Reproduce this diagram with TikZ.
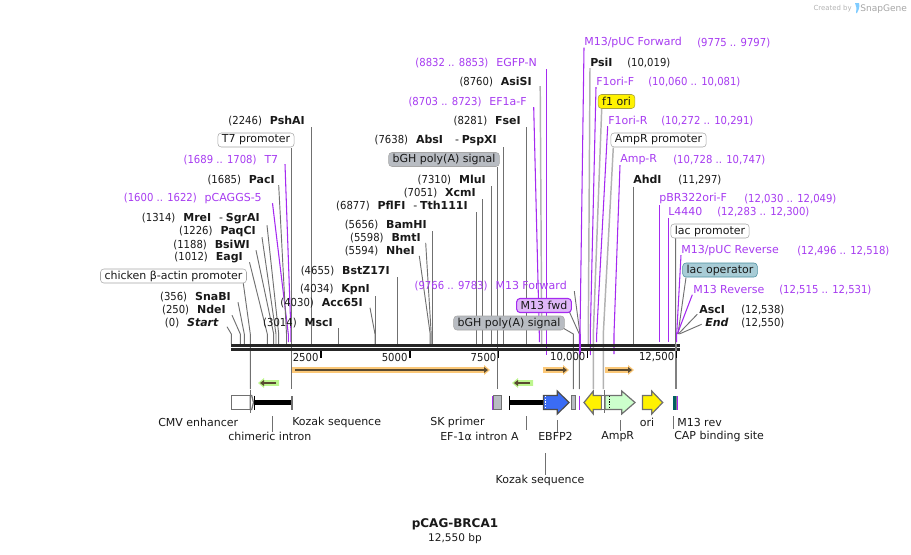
\documentclass[tikz,border=0pt]{standalone}
\usepackage{fontspec}
\setmainfont{DejaVu Sans}
\newfontfamily\nf{DejaVu Sans}[FakeStretch=0.915]
\definecolor{purp}{HTML}{A63BF0}
\definecolor{purl}{HTML}{A52AF0}
\definecolor{grayl}{HTML}{808080}
\definecolor{linegray}{HTML}{707070}
\definecolor{bandor}{HTML}{FBC878}
\definecolor{bandgr}{HTML}{BDF58E}
\definecolor{inner}{HTML}{5A4A30}
\definecolor{fgray}{HTML}{B8BCC2}
\definecolor{opfill}{HTML}{A8CCD6}
\definecolor{opdraw}{HTML}{4A8FA0}
\definecolor{fwdfill}{HTML}{E0B8F8}
\definecolor{ebfp}{HTML}{3B6CF5}
\pgfdeclarelayer{bg}
\pgfsetlayers{bg,main}
\tikzset{
  txt/.style={font=\fontsize{8.25pt}{10pt}\selectfont,inner sep=0pt,text=black!90,yshift=-0.55pt},
  pl/.style={txt,text=purp},
  gl/.style={draw=linegray,line width=0.7pt},
  gw/.style={draw=gray!60,line width=1.1pt},
  pu/.style={draw=purl,line width=0.8pt},
  pill/.style={txt,yshift=0.55pt,draw=gray!70,rounded corners=2.5pt,inner xsep=3pt,minimum height=10.5pt,fill=white},
  feat/.style={draw=linegray,line width=0.9pt},
  rail/.style={line width=2.3pt,draw=black!85},
}
\newcommand\LL[5][txt]{\node[#1,anchor=east] (#2) at (#3,#4) {#5};}
\newcommand\RL[5][txt]{\node[#1,anchor=west] (#2) at (#3,#4) {#5};}
\newcommand\BN[1]{\textbf{#1}}
\newcommand\BI[1]{\textbf{\textit{#1}}}
\newcommand\NU[1]{{\nf #1}}
\newcommand\GP{\hspace{0.72em}}
% leader: style, label.anchor, dx, dy, x at the backbone, end y
\newcommand\Lead[6]{\coordinate (bnd) at (#5,334);\coordinate (fin) at (#5,#6);
  \draw[#1] ([shift={(#3,#4)}]#2) -- (bnd) -- (fin);}
\newcommand\Band[5]{%
  \fill[#1] (#2,#4-2.8) -- (#3-#5*6,#4-2.8) -- (#3-#5*6,#4-5) -- (#3,#4) -- (#3-#5*6,#4+5) -- (#3-#5*6,#4+2.8) -- (#2,#4+2.8) -- cycle;
  \draw[inner,line width=1.4pt] (#2+#5*3,#4) -- (#3-#5*4,#4);
  \fill[inner] (#3-#5*2,#4) -- (#3-#5*6,#4-3) -- (#3-#5*6,#4+3) -- cycle;}
\begin{document}
\begin{tikzpicture}[x=0.75pt,y=-0.75pt]
\useasboundingbox (0,0) rectangle (911,554);
% ---- left labels
\LL{start}{219}{322}{\NU{(0)}\GP\BI{Start}}
\LL{ndei}{226}{309}{\NU{(250)}\GP\BN{NdeI}}
\LL{snabi}{231}{296}{\NU{(356)}\GP\BN{SnaBI}}
\node[pill] (chick) at (173.5,276) {chicken β-actin promoter};
\LL{eagi}{243}{257}{\NU{(1012)}\GP\BN{EagI}}
\LL{bsiwi}{250}{244}{\NU{(1188)}\GP\BN{BsiWI}}
\LL{paqci}{256}{231}{\NU{(1226)}\GP\BN{PaqCI}}
\LL{mrei}{260}{218}{\NU{(1314)}\GP\BN{MreI}\GP-\hspace{0.25em}\BN{SgrAI}}
\LL[pl]{pcag}{262}{198}{\NU{(1600 .. 1622)}\GP pCAGGS-5}
\LL{paci}{275}{179}{\NU{(1685)}\GP\BN{PacI}}
\LL[pl]{tsev}{278.5}{159}{\NU{(1689 .. 1708)}\GP T7}
\node[pill] (tprom) at (256,140) {T7 promoter};
\LL{pshai}{305}{120}{\NU{(2246)}\GP\BN{PshAI}}
\LL{bstz}{390}{270}{\NU{(4655)}\GP\BN{BstZ17I}}
\LL{kpni}{370}{289}{\NU{(4034)}\GP\BN{KpnI}}
\LL{acc}{363}{302}{\NU{(4030)}\GP\BN{Acc65I}}
\LL{msci}{333}{322}{\NU{(3014)}\GP\BN{MscI}}
\LL{nhei}{415}{250}{\NU{(5594)}\GP\BN{NheI}}
\LL{bmti}{421}{237}{\NU{(5598)}\GP\BN{BmtI}}
\LL{bamhi}{427}{224}{\NU{(5656)}\GP\BN{BamHI}}
\LL{pflfi}{468}{205}{\NU{(6877)}\GP\BN{PflFI}\GP-\hspace{0.25em}\BN{Tth111I}}
\LL{xcmi}{476}{192}{\NU{(7051)}\GP\BN{XcmI}}
\LL{mlui}{486}{179}{\NU{(7310)}\GP\BN{MluI}}
\node[pill,fill=fgray] (bghu) at (444,159.5) {bGH poly(A) signal};
\LL{absi}{497}{140}{\NU{(7638)}\GP\BN{AbsI}\hspace{1.1em}-\hspace{0.25em}\BN{PspXI}}
\LL{fsei}{521}{120}{\NU{(8281)}\GP\BN{FseI}}
\LL[pl]{efa}{527}{101}{\NU{(8703 .. 8723)}\GP EF1a-F}
\LL{asisi}{532}{81}{\NU{(8760)}\GP\BN{AsiSI}}
\LL[pl]{egfp}{537}{62}{\NU{(8832 .. 8853)}\GP EGFP-N}
\LL[pl]{mforw}{567}{285}{\NU{(9766 .. 9783)}\GP M13 Forward}
\node[pill,fill=fwdfill,draw=purl,line width=0.8pt] (mfwd) at (544,305.5) {M13 fwd};
\node[pill,fill=fgray] (bghl) at (509,323) {bGH poly(A) signal};
% ---- right labels
\RL[pl]{mpuc}{584}{42}{M13/pUC Forward}
\RL[pl]{mpucr}{697}{42}{\NU{(9775 .. 9797)}}
\RL{psii}{590}{62}{\BN{PsiI}}
\RL{psiir}{627}{62}{\NU{(10,019)}}
\RL[pl]{ff}{596}{81}{F1ori-F}
\RL[pl]{ffr}{648}{81}{\NU{(10,060 .. 10,081)}}
\node[pill,fill=yellow,draw=yellow!60!black] (fori) at (616.5,101.5) {f1 ori};
\RL[pl]{fr}{608}{120}{F1ori-R}
\RL[pl]{frr}{661}{120}{\NU{(10,272 .. 10,291)}}
\node[pill] (ampp) at (658.5,140) {AmpR promoter};
\RL[pl]{ampr}{620}{159}{Amp-R}
\RL[pl]{amprr}{673}{159}{\NU{(10,728 .. 10,747)}}
\RL{ahdi}{633}{179}{\BN{AhdI}}
\RL{ahdir}{678}{179}{\NU{(11,297)}}
\RL[pl]{pbr}{659}{198}{pBR322ori-F}
\RL[pl]{pbrr}{744}{198}{\NU{(12,030 .. 12,049)}}
\RL[pl]{lf}{668}{211}{L4440}
\RL[pl]{lfr}{717}{211}{\NU{(12,283 .. 12,300)}}
\node[pill] (lacp) at (710,231) {lac promoter};
\RL[pl]{mpr}{681}{250}{M13/pUC Reverse}
\RL[pl]{mprr}{797}{250}{\NU{(12,496 .. 12,518)}}
\node[pill,fill=opfill,draw=opdraw] (laco) at (720,270) {lac operator};
\RL[pl]{mr}{693}{289}{M13 Reverse}
\RL[pl]{mrr}{779}{289}{\NU{(12,515 .. 12,531)}}
\RL{asci}{699}{309}{\BN{AscI}}
\RL{ascir}{741}{309}{\NU{(12,538)}}
\RL{endl}{705}{322}{\BI{End}}
\RL{endr}{741}{322}{\NU{(12,550)}}
% ---- leaders, under the labels
\begin{pgfonlayer}{bg}
\Lead{gl}{start.east}{8}{4}{231.3}{344}
\Lead{gl}{ndei.east}{6}{5.5}{240.3}{344}
\Lead{gl}{snabi.east}{7}{5.5}{244.3}{344}
\Lead{gl}{chick.center}{69.8}{7.3}{250.3}{389}
\Lead{gl}{eagi.east}{6.5}{4.5}{267.3}{344}
\Lead{gl}{bsiwi.east}{6}{5.5}{273.7}{344}
\Lead{gl}{paqci.east}{6}{5.5}{276}{344}
\Lead{gl}{mrei.east}{7}{6.5}{278.7}{344}
\Lead{pu}{pcag.east}{10.5}{4.5}{288.3}{342}
\Lead{gl}{paci.east}{3.7}{5.5}{286.5}{344}
\Lead{pu}{tsev.east}{6.5}{4.5}{291}{342}
\Lead{gl}{tprom.center}{35.3}{7.5}{291.3}{389}
\Lead{gl}{pshai.east}{6.5}{6.5}{311.5}{344}
\Lead{gl}{msci.east}{5.3}{5.5}{338.3}{344}
\Lead{gl}{acc.east}{7}{5}{375}{344}
\Lead{gl}{kpni.east}{5.3}{6.5}{375.3}{344}
\Lead{gl}{bstz.east}{7.3}{6.5}{397.3}{344}
\Lead{gl}{nhei.east}{4.3}{5.2}{430.2}{344}
\Lead{gl}{bmti.east}{4.7}{5.2}{431.2}{344}
\Lead{gl}{bamhi.east}{5.3}{6.5}{432.3}{344}
\Lead{gl}{pflfi.east}{8.3}{6.5}{476.3}{344}
\Lead{gl}{xcmi.east}{6.3}{6.5}{482.3}{344}
\Lead{gl}{mlui.east}{5.6}{6.5}{491.6}{344}
\Lead{gl}{bghu.center}{53.3}{7.5}{497.3}{389}
\Lead{gl}{absi.east}{6.3}{6.5}{503.3}{344}
\Lead{gl}{fsei.east}{5.3}{6.5}{526.3}{344}
\Lead{pu}{efa.east}{6.7}{5.5}{539.3}{342}
\Lead{gw}{asisi.east}{8.2}{4.5}{541.7}{344}
\Lead{pu}{egfp.east}{9.5}{6.5}{546.5}{355}
\Lead{gl}{mforw.east}{7.3}{5.5}{580}{334}
\Lead{gl}{mfwd.center}{25.3}{6.2}{579.3}{389}
\Lead{gl}{bghl.center}{54}{5}{573.3}{389}
\Lead{pu}{mpuc.west}{0}{5}{580}{355}
\Lead{gw}{psii.west}{0}{5.5}{588.3}{344}
\Lead{pu}{ff.west}{0}{5.5}{590.3}{355}
\Lead{gw}{fori.center}{-14.8}{7.5}{593.3}{389}
\Lead{pu}{fr.west}{-0.3}{5.5}{596.7}{342}
\Lead{gw}{ampp.center}{-45.2}{7.5}{603.3}{389}
\Lead{pu}{ampr.west}{0}{5.5}{614}{354}
\Lead{gl}{ahdi.west}{0.3}{7}{633.3}{344}
\Lead{pu}{pbr.west}{0.3}{6.5}{659.3}{342}
\Lead{pu}{lf.west}{0.3}{6.5}{668.3}{342}
\Lead{gl}{lacp.center}{-34.3}{7}{675.7}{344}
\Lead{pu}{mpr.west}{0}{4.5}{676.7}{342}
\Lead{gl}{laco.center}{-34}{7.5}{678}{334}
\Lead{pu}{mr.west}{-0.7}{5}{677.3}{334}
\Lead{gl}{asci.west}{-1.7}{4.5}{678.3}{334}
\Lead{gl}{endl.west}{-3.3}{1.5}{679.3}{334}
\end{pgfonlayer}
% ---- backbone
\draw[rail] (231,345.5) -- (680,345.5);
\draw[rail] (231,349.7) -- (680,349.7);
\draw[purl,line width=1.5pt] (580,334) -- (580,355);
\draw[grayl,line width=1.6pt] (676,344) -- (676,389);
\foreach \x/\t in {320.7/2500,409.7/5000,498.6/7500,587.6/{10,000},676.5/{12,500}}{
  \draw[black,line width=1.3pt] (\x,351) -- (\x,358);
  \node[txt,anchor=east] at (\x-2,356.5) {\NU{\t}};}
% ---- bands
\Band{bandor}{292}{490}{370}{1}
\Band{bandor}{543}{569}{370}{1}
\Band{bandor}{605}{634}{370}{1}
\Band{bandgr}{279}{258}{383}{-1}
\Band{bandgr}{533}{512}{383}{-1}
% ---- features
\draw[feat,fill=white] (231.3,395.5) rectangle (250.3,409.5);
\draw[feat,fill=white] (250.3,395.5) -- (251.7,395.5) -- (253.5,402.5) -- (251.7,409.5) -- (250.3,409.5) -- cycle;
\draw[linegray,line width=0.7pt] (250.3,390) -- (250.3,413);
\fill[black] (255,399.5) rectangle (291,405);
\draw[black,line width=1pt] (254.5,395.5) -- (254.5,409.5);
\fill[linegray] (291,395.5) rectangle (292.7,409.5);
\fill[purl] (492,395.5) rectangle (493.5,409.5);
\draw[feat,fill=fgray] (493.5,395.5) rectangle (501.5,409.5);
\fill[black] (510,399.5) rectangle (543.5,405);
\draw[black,line width=1pt] (509.5,395.5) -- (509.5,409.5);
\draw[feat,draw=black!70,fill=ebfp] (543.5,395.5) -- (557.3,395.5) -- (557.3,391) -- (569,402.5) -- (557.3,414) -- (557.3,409.5) -- (543.5,409.5) -- cycle;
\draw[white,line width=0.7pt,dash pattern=on 1pt off 1pt] (545.5,396) -- (545.5,409);
\draw[feat,fill=fgray] (571.5,395.5) rectangle (575.5,409.5);
\draw[purl,line width=0.9pt] (579.3,395.5) -- (579.3,409.5);
\draw[feat,fill=yellow] (601.5,395.5) -- (593.3,395.5) -- (593.3,391) -- (584,402.5) -- (593.3,414) -- (593.3,409.5) -- (601.5,409.5) -- cycle;
\draw[feat,fill=white] (601.5,395.5) rectangle (605,409.5);
\draw[feat,fill=green!20!white] (605,395.5) -- (621.7,395.5) -- (621.7,391) -- (635,402.5) -- (621.7,414) -- (621.7,409.5) -- (605,409.5) -- cycle;
\draw[black,line width=0.7pt,dash pattern=on 1pt off 1pt] (609.7,396) -- (609.7,409);
\draw[linegray,line width=0.7pt] (604.3,390) -- (604.3,413);
\draw[feat,fill=yellow] (642.5,395.5) -- (651.7,395.5) -- (651.7,391) -- (662.7,402.5) -- (651.7,414) -- (651.7,409.5) -- (642.5,409.5) -- cycle;
\fill[teal!75!black] (673.3,395.5) rectangle (676.3,409.5);
\fill[gray] (676.3,395.5) rectangle (677,409.5);
\fill[purl] (677,395.5) rectangle (678.2,409.5);
% ---- feature labels
\RL{cmv}{158}{422}{CMV enhancer}
\RL{chim}{228}{436}{chimeric intron}
\coordinate (chimtop) at (272.5,416);\draw[gl] (chimtop) -- (chim.north -| chimtop);
\RL{kz}{292}{422}{Kozak sequence}
\RL{skp}{430}{422}{SK primer}
\RL{efi}{440}{436}{EF-1α intron A}
\coordinate (efitop) at (526.5,416);\draw[gl] (efitop) -- (526.5,430);
\RL{ebf}{538}{436}{EBFP2}
\coordinate (ebftop) at (557.3,420);\draw[gl] (ebftop) -- (ebf.north -| ebftop);
\node[txt] (kz2) at (540,480) {Kozak sequence};
\coordinate (kztop) at (545,453);\draw[gl] (kztop) -- (kz2.north -| kztop);
\RL{amp}{601}{436}{AmpR}
\coordinate (amptop) at (620.7,420);\draw[gl] (amptop) -- (amp.north -| amptop);
\node[txt] (ori) at (647,422) {ori};
\RL{mrev}{677}{422}{M13 rev}
\RL{capb}{674}{436}{CAP binding site}
\coordinate (captop) at (673.3,416);\draw[gl] (captop) -- (673.3,429);
% ---- title
\node[txt,font=\fontsize{9pt}{11pt}\selectfont\bfseries] (title) at (455,524) {pCAG-BRCA1};
\node[txt,font=\fontsize{7.9pt}{10pt}\selectfont] (bp) at (455,538) {12,550 bp};
% ---- logo
\node[txt,text=gray!60,font=\fontsize{5.2pt}{6pt}\selectfont,anchor=east] (crt) at (852,8) {Created by};
\fill[blue!40!cyan!50!white] (855,3) -- (859,3) .. controls (860,7) and (859,9) .. (857,13) -- (856,13) -- (856.5,8) -- cycle;
\node[txt,text=gray!70,font=\fontsize{6.8pt}{8pt}\selectfont,anchor=west] (snap) at (860,8) {SnapGene};
\end{tikzpicture}
\end{document}
